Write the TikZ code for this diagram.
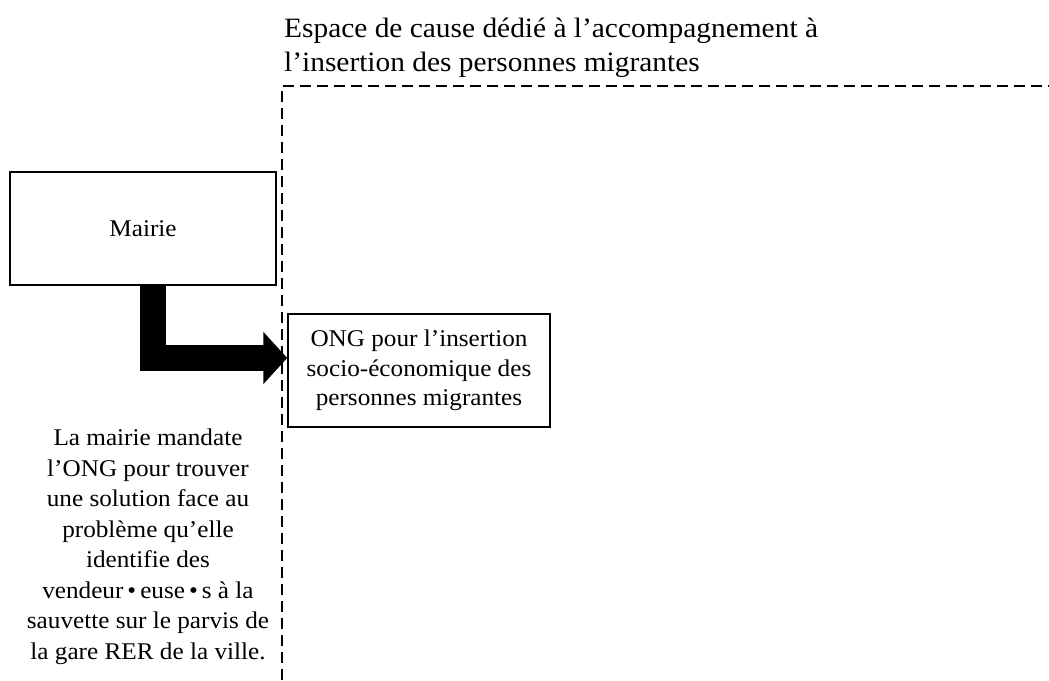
\documentclass[tikz,border=0pt]{standalone}
\usepackage{fontspec}
\setmainfont{Liberation Serif}[FakeStretch=1.05]
\usetikzlibrary{arrows.meta}
\usetikzlibrary{calc,positioning}

\begin{document}
\begin{tikzpicture}[x=1pt, y=-1pt,
        acteur/.style={draw, line width=1.5pt, align=center, inner sep=0pt,
                       font=\fontsize{24}{29.5}\selectfont},
        legende/.style={align=center, font=\fontsize{24}{30.5}\selectfont},
        mandat/.style={line width=26pt, line join=miter,
                       -{Triangle[length=24pt, width=51pt]}}]
                        \useasboundingbox (0,0) rectangle (1049,680);
                        % Espace de cause (cadre en tirets)
                        \draw[line width=2pt, dash pattern=on 11pt off 6pt] (282,680) -- (282,86) -- (1049,86);
                        \node[anchor=west, align=left, inner sep=2pt, font=\fontsize{28}{34}\selectfont] (espace) at (282,48)
                            {Espace de cause dédié à l’accompagnement à\\l’insertion des personnes migrantes};
                        % Acteurs
                        \node[acteur, minimum width=266pt, minimum height=113pt] (mairie) at (143,228.5) {Mairie};
                        \node[acteur, minimum width=262pt, minimum height=113pt] (ong) at (419,370.5)
                            {ONG pour l’insertion\\socio-économique des\\personnes migrantes};
                        % Mandat de la mairie vers l'ONG
                        \coordinate (coude) at (153,358);
                        \draw[mandat] (mairie.south -| coude) -- (coude) -- (coude -| ong.west);
                        \node[legende] (mandatlegende) at (148,547)
                            {La mairie mandate\\l’ONG pour trouver\\une solution face au\\problème qu’elle\\identifie des\\vendeur\,•\,euse\,•\,s à la\\sauvette sur le parvis de\\la gare RER de la ville.};
                    \end{tikzpicture}
\end{document}
